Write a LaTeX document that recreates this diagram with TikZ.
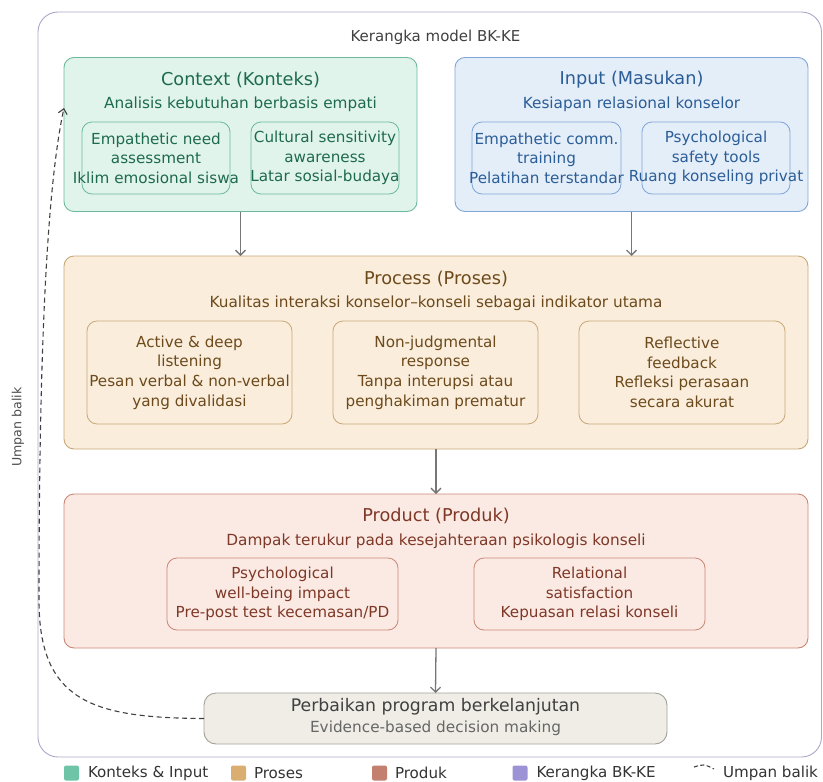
\documentclass[tikz,border=0pt]{standalone}
\usepackage{fontspec}
\setmainfont{DejaVu Sans}
\usetikzlibrary{positioning,arrows.meta,calc}
\definecolor{framecol}{HTML}{A9A7C6}
\definecolor{ctxfill}{HTML}{E0F4EC}
\definecolor{ctxline}{HTML}{6DBA9B}
\definecolor{ctxtext}{HTML}{1E6A4E}
\definecolor{inpfill}{HTML}{E4EEF9}
\definecolor{inpline}{HTML}{7FA6D6}
\definecolor{inptext}{HTML}{2B5D97}
\definecolor{prcfill}{HTML}{FAEDDB}
\definecolor{prcline}{HTML}{C9A878}
\definecolor{prctext}{HTML}{6C4A1C}
\definecolor{prdfill}{HTML}{FBEAE4}
\definecolor{prdline}{HTML}{C98776}
\definecolor{prdtext}{HTML}{7E3827}
\definecolor{fixfill}{HTML}{EFEDE6}
\definecolor{fixline}{HTML}{A3A199}
\definecolor{arrowgray}{HTML}{777777}
\definecolor{leggreen}{HTML}{6DC4A6}
\definecolor{legtan}{HTML}{D9AE70}
\definecolor{legbrown}{HTML}{C4806E}
\definecolor{legpurple}{HTML}{9C93D6}
\newcommand{\headfont}{\fontsize{17.7}{21}\selectfont}
\newcommand{\subfont}{\fontsize{15.3}{19}\selectfont}
\newcommand{\itemfont}{\fontsize{15.2}{19.6}\selectfont}

\begin{document}
\begin{tikzpicture}[
    x=1pt, y=-1pt,
    every node/.style={inner sep=0pt, outer sep=0pt},
    frame/.style={rectangle, draw=framecol, line width=0.9pt, rounded corners=20pt},
    panel/.style={rectangle, line width=0.9pt, rounded corners=10pt},
    inner/.style={rectangle, line width=0.8pt, rounded corners=10pt},
    head/.style={font=\headfont},
    sub/.style={font=\subfont},
    itemtext/.style={font=\itemfont, align=center},
    legbox/.style={rectangle, rounded corners=2pt, minimum size=15pt},
    legtext/.style={font=\fontsize{15.1}{18}\selectfont, text=black!80, anchor=west},
    arrow/.style={-{Straight Barb[length=5pt, width=10pt]}, line width=1.3pt, draw=arrowgray},
    fbline/.style={draw=black!75, line width=1.1pt, dash pattern=on 5pt off 3.5pt}
]
\useasboundingbox (0,0) rectangle (823,782);

% outer framework
\node[frame, minimum width=783.5pt, minimum height=745pt] (frame) at (429.75,384.5) {};
\node[font=\fontsize{15}{18}\selectfont, text=black!75] (frametitle) at (435.5,37) {Kerangka model BK-KE};

% context
\node[panel, draw=ctxline, fill=ctxfill, minimum width=353pt, minimum height=154pt] (context) at (240.5,134.5) {};
\node[head, text=ctxtext] (ctxtitle) at (240.5,80) {Context (Konteks)};
\node[sub, text=ctxtext] (ctxsub) at (240.5,104) {Analisis kebutuhan berbasis empati};
\node[inner, draw=ctxline, minimum width=148pt, minimum height=72pt] (ctxneed) at (156,158) {};
\node[itemtext, text=ctxtext] (ctxneedtxt) at (ctxneed) {Empathetic need\\assessment\\Iklim emosional siswa};
\node[inner, draw=ctxline, minimum width=148pt, minimum height=72pt] (ctxcult) at (325,158) {};
\node[itemtext, text=ctxtext] (ctxculttxt) at (ctxcult) {Cultural sensitivity\\awareness\\Latar sosial-budaya};

% input
\node[panel, draw=inpline, fill=inpfill, minimum width=353pt, minimum height=154pt] (input) at (631.5,134.5) {};
\node[head, text=inptext] (inptitle) at (631.5,80) {Input (Masukan)};
\node[sub, text=inptext] (inpsub) at (631.5,104) {Kesiapan relasional konselor};
\node[inner, draw=inpline, minimum width=149pt, minimum height=72pt] (inptrain) at (546.5,158) {};
\node[itemtext, text=inptext] (inptraintxt) at (inptrain) {Empathetic comm.\\training\\Pelatihan terstandar};
\node[inner, draw=inpline, minimum width=148pt, minimum height=72pt] (inpsafe) at (716,158) {};
\node[itemtext, text=inptext] (inpsafetxt) at (inpsafe) {Psychological\\safety tools\\Ruang konseling privat};

% process
\node[panel, draw=prcline, fill=prcfill, minimum width=744pt, minimum height=193pt] (process) at (436,352.5) {};
\node[head, text=prctext] (prctitle) at (436,279) {Process (Proses)};
\node[sub, text=prctext] (prcsub) at (436,303) {Kualitas interaksi konselor–konseli sebagai indikator utama};
\node[inner, draw=prcline, minimum width=205pt, minimum height=103pt] (prclisten) at (189.5,372.5) {};
\node[itemtext, text=prctext] (prclistentxt) at (prclisten) {Active \& deep\\listening\\Pesan verbal \& non-verbal\\yang divalidasi};
\node[inner, draw=prcline, minimum width=205pt, minimum height=103pt] (prcjudge) at (435.5,372.5) {};
\node[itemtext, text=prctext] (prcjudgetxt) at (prcjudge) {Non-judgmental\\response\\Tanpa interupsi atau\\penghakiman prematur};
\node[inner, draw=prcline, minimum width=206pt, minimum height=103pt] (prcreflect) at (682,372.5) {};
\node[itemtext, text=prctext] (prcreflecttxt) at (prcreflect) {Reflective\\feedback\\Refleksi perasaan\\secara akurat};

% product
\node[panel, draw=prdline, fill=prdfill, minimum width=744pt, minimum height=154pt] (product) at (436,571) {};
\node[head, text=prdtext] (prdtitle) at (436,516) {Product (Produk)};
\node[sub, text=prdtext] (prdsub) at (436,541) {Dampak terukur pada kesejahteraan psikologis konseli};
\node[inner, draw=prdline, minimum width=231pt, minimum height=72pt] (prdwell) at (282.5,594) {};
\node[itemtext, text=prdtext] (prdwelltxt) at (prdwell) {Psychological\\well-being impact\\Pre-post test kecemasan/PD};
\node[inner, draw=prdline, minimum width=231pt, minimum height=72pt] (prdrel) at (589.5,594) {};
\node[itemtext, text=prdtext] (prdreltxt) at (prdrel) {Relational\\satisfaction\\Kepuasan relasi konseli};

% continuous improvement
\node[panel, draw=fixline, fill=fixfill, rounded corners=12pt, minimum width=463pt, minimum height=51pt] (fix) at (435.5,718.5) {};
\node[font=\fontsize{17.3}{21}\selectfont, text=black!75] (fixtitle) at (435.5,707) {Perbaikan program berkelanjutan};
\node[sub, text=black!60] (fixsub) at (435.5,728.5) {Evidence-based decision making};

\draw[arrow] (context.south) -- (context.south |- process.north);
\draw[arrow] (input.south) -- (input.south |- process.north);
\draw[arrow] (process.south) -- (product.north);
\draw[arrow] (product.south) -- (fix.north);

% feedback loop
\coordinate (fbturn) at (39,600);
\draw[fbline, -{Straight Barb[length=5pt, width=9pt]}] (fix.west) .. controls (90,718) and (39,700) .. (fbturn)
    .. controls (39,400) and (44,200) .. ([yshift=26.5pt]context.west);
\node[rotate=90, font=\fontsize{12.6}{15}\selectfont, text=black!70] (fblabel) at (18,427) {Umpan balik};

% legend
\node[legbox, fill=leggreen] (legctx) at (71.5,773) {};
\node[legtext, right=9pt of legctx] (legctxtxt) {Konteks \& Input};
\node[legbox, fill=legtan] (legprc) at (238.5,773) {};
\node[legtext, right=8pt of legprc] (legprctxt) {Proses};
\node[legbox, fill=legbrown] (legprd) at (379.5,773) {};
\node[legtext, right=8pt of legprd] (legprdtxt) {Produk};
\node[legbox, fill=legpurple] (legfrm) at (520,773) {};
\node[legtext, right=9pt of legfrm] (legfrmtxt) {Kerangka BK-KE};
\coordinate (legfba) at (694,767);
\coordinate (legfbb) at (714,769);
\draw[fbline, dash pattern=on 4pt off 2.5pt] (legfba) .. controls (704,764) .. (legfbb);
\node[legtext] (legfbtxt) at (723,773) {Umpan balik};
\end{tikzpicture}
\end{document}
